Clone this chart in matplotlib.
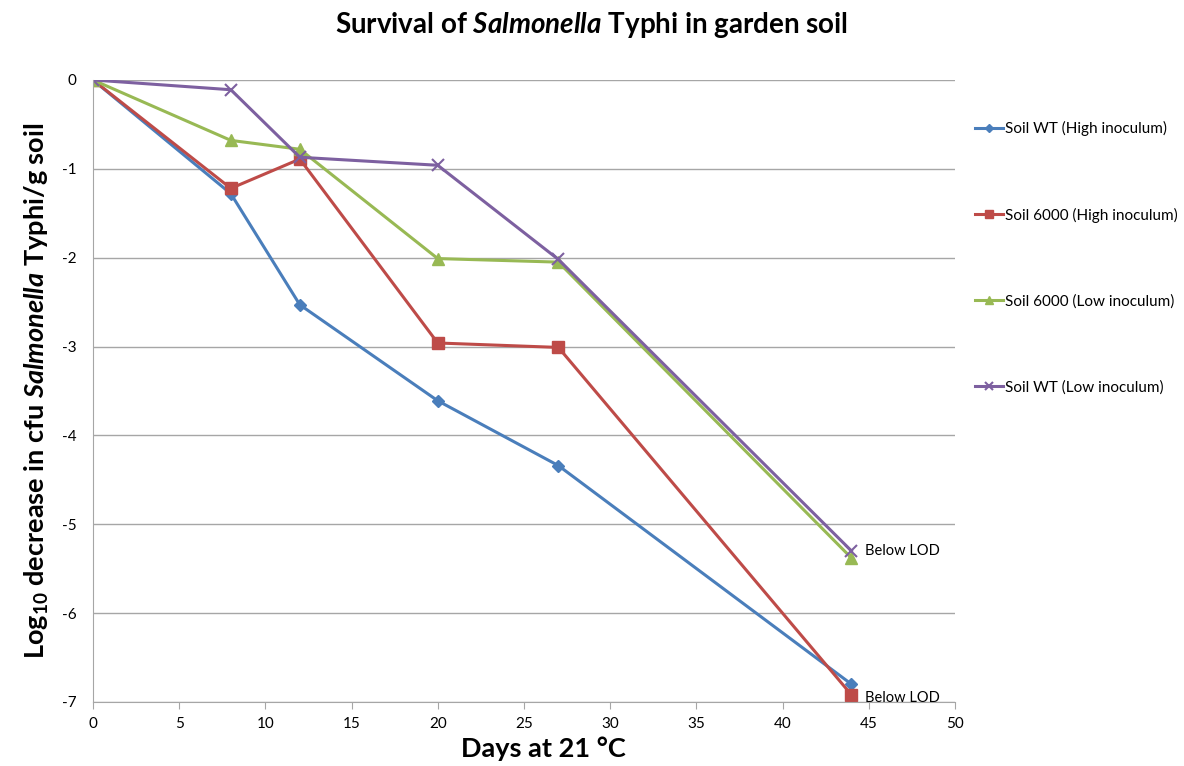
import matplotlib
matplotlib.use("Agg")
import matplotlib.pyplot as plt

plt.rcParams['font.family'] = ['Lato', 'DejaVu Sans']
plt.rcParams['mathtext.fontset'] = 'custom'
plt.rcParams['mathtext.rm'] = 'Lato:bold'
plt.rcParams['mathtext.it'] = 'Lato:italic:bold'
plt.rcParams['mathtext.bf'] = 'Lato:bold'
plt.rcParams['axes.unicode_minus'] = False

days = [0, 8, 12, 20, 27, 44]
wt_high = [0, -1.28, -2.53, -3.61, -4.34, -6.80]
s6000_high = [0, -1.22, -0.89, -2.96, -3.01, -6.92]
s6000_low = [0, -0.68, -0.78, -2.01, -2.05, -5.38]
wt_low = [0, -0.11, -0.87, -0.96, -2.02, -5.30]

labels = ['Soil WT (High inoculum)', 'Soil 6000 (High inoculum)',
          'Soil 6000 (Low inoculum)', 'Soil WT (Low inoculum)']
colors = ['#4a7ebb', '#be4b48', '#98b954', '#7d60a0']
markers = ['D', 's', '^', 'x']
sizes = [6, 9, 9, 8]

fig = plt.figure(figsize=(11.84, 7.66), dpi=100)
ax = fig.add_axes([0.0785, 0.0836, 0.728, 0.812])

series = [wt_high, s6000_high, s6000_low, wt_low]
for vals, lab, c, m, s in zip(series, labels, colors, markers, sizes):
    ax.plot(days, vals, color=c, lw=2.2, marker=m, ms=s, mew=1.5 if m == 'x' else 1,
            label=lab)

ax.text(44.8, wt_low[-1], 'Below LOD', fontsize=10.5, va='center')
ax.text(44.8, s6000_high[-1] - 0.03, 'Below LOD', fontsize=10.5, va='center')

ax.set_xlim(0, 50)
ax.set_ylim(-7, 0)
ax.set_xticks(range(0, 51, 5))
ax.set_yticks(range(-7, 1))
ax.grid(axis='y', color='#a6a6a6', lw=1)
ax.set_axisbelow(True)
for sp in ['top', 'right']:
    ax.spines[sp].set_visible(False)
for sp in ['left', 'bottom']:
    ax.spines[sp].set_color('#a6a6a6')
ax.tick_params(axis='x', direction='out', length=5, color='#a6a6a6', labelsize=11, pad=6)
ax.tick_params(axis='y', length=0, labelsize=11, pad=12)

ax.set_xlabel('Days at 21 °C', fontsize=19.5, fontweight='bold')
ax.xaxis.set_label_coords(0.523, -0.056)
ax.set_ylabel(r'Log$_{10}$ decrease in cfu $\mathit{Salmonella}$ Typhi/g soil',
              fontsize=19.5, fontweight='bold', labelpad=8)
fig.text(0.5, 0.968, r'Survival of $\mathit{Salmonella}$ Typhi in garden soil',
         fontsize=20, fontweight='bold', ha='center', va='center')

fig.legend(loc='upper left', bbox_to_anchor=(0.812, 0.86), frameon=False,
           fontsize=11, labelspacing=4.68, handlelength=1.8, handletextpad=0.15,
           markerscale=0.7)

fig.savefig('out.png', dpi=100)
